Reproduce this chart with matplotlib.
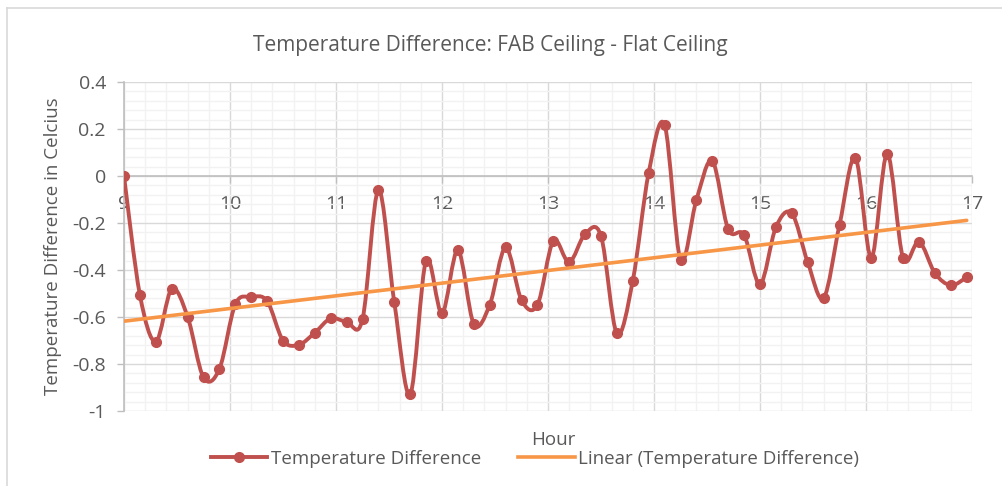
import numpy as np
import matplotlib
matplotlib.use("Agg")
import matplotlib.pyplot as plt
from matplotlib.path import Path
from matplotlib.patches import PathPatch
from matplotlib.lines import Line2D
from matplotlib.ticker import MultipleLocator, FuncFormatter

# -------------------------------
# Data
# -------------------------------
hours = [9.00, 9.15, 9.30, 9.45, 9.60, 9.75, 9.90, 10.05, 10.20, 10.35,
         10.50, 10.65, 10.80, 10.95, 11.10, 11.25, 11.40, 11.55, 11.70, 11.85,
         12.00, 12.15, 12.30, 12.45, 12.60, 12.75, 12.90, 13.05, 13.20, 13.35,
         13.50, 13.65, 13.80, 13.95, 14.10, 14.25, 14.40, 14.55, 14.70, 14.85,
         15.00, 15.15, 15.30, 15.45, 15.60, 15.75, 15.90, 16.05, 16.20, 16.35,
         16.50, 16.65, 16.80, 16.95]
temp_diff = [0.0, -0.506, -0.705, -0.481, -0.599, -0.857, -0.821, -0.546, -0.516, -0.532,
             -0.70, -0.718, -0.667, -0.606, -0.62, -0.61, -0.06, -0.538, -0.929, -0.36,
             -0.584, -0.316, -0.63, -0.549, -0.304, -0.528, -0.549, -0.277, -0.367, -0.247,
             -0.255, -0.67, -0.445, 0.014, 0.217, -0.357, -0.102, 0.064, -0.227, -0.251,
             -0.461, -0.218, -0.159, -0.367, -0.52, -0.208, 0.078, -0.348, 0.094, -0.35,
             -0.279, -0.413, -0.465, -0.431]
x_ticks = [9, 10, 11, 12, 13, 14, 15, 16, 17]
y_ticks = [-1, -0.8, -0.6, -0.4, -0.2, 0, 0.2, 0.4]

RED = "#C0504D"
ORANGE = "#F79646"
TXT = "#595959"

plt.rcParams['font.family'] = ['Open Sans', 'DejaVu Sans']
plt.rcParams['axes.unicode_minus'] = False

x = np.array(hours)
y = np.array(temp_diff)

# -------------------------------
# Figure & axes
# -------------------------------
fig = plt.figure(figsize=(10.02, 4.86), dpi=100)
ax = fig.add_axes([124 / 1002, 1 - 411 / 486, (972 - 124) / 1002, (411 - 82) / 486])

# chart area outline (top + left only visible)
fig.add_artist(Line2D([7 / 1002, 7 / 1002], [0, 1 - 8 / 486], transform=fig.transFigure,
                      color="#d9d9d9", lw=1.2))
fig.add_artist(Line2D([7 / 1002, 1], [1 - 8 / 486, 1 - 8 / 486], transform=fig.transFigure,
                      color="#d9d9d9", lw=1.2))

# smoothed line (Catmull-Rom style bezier, like Excel's "smoothed line")
pts = np.column_stack([x, y])
verts = [pts[0]]
codes = [Path.MOVETO]
n = len(pts)
for i in range(n - 1):
    p0 = pts[i - 1] if i > 0 else pts[i]
    p1 = pts[i]
    p2 = pts[i + 1]
    p3 = pts[i + 2] if i + 2 < n else pts[i + 1]
    c1 = p1 + (p2 - p0) / 6.0
    c2 = p2 - (p3 - p1) / 6.0
    verts += [c1, c2, p2]
    codes += [Path.CURVE4] * 3
ax.add_patch(PathPatch(Path(verts, codes), fill=False, edgecolor=RED, lw=2.8,
                       capstyle='round', joinstyle='round', zorder=3))
ax.plot(x, y, 'o', color=RED, ms=7, zorder=4)

# linear trendline
k, b = np.polyfit(x, y, 1)
ax.plot([x[0], x[-1]], [k * x[0] + b, k * x[-1] + b], color=ORANGE, lw=2.6,
        solid_capstyle='round', zorder=5)

# -------------------------------
# Axes styling
# -------------------------------
ax.set_xlim(9, 17)
ax.set_ylim(-1, 0.4)
ax.set_xticks(x_ticks)
ax.set_yticks(y_ticks)
ax.xaxis.set_minor_locator(MultipleLocator(0.2))
ax.yaxis.set_minor_locator(MultipleLocator(0.04))
ax.yaxis.set_major_formatter(FuncFormatter(lambda v, p: f"{v:g}"))

ax.grid(which='major', color="#d9d9d9", lw=1.0, zorder=0)
ax.grid(which='minor', color="#f2f2f2", lw=1.0, zorder=0)
ax.set_axisbelow(True)

for s in ['top', 'right']:
    ax.spines[s].set_visible(False)
ax.spines['bottom'].set_position(('data', 0))
ax.spines['bottom'].set_color("#bfbfbf")
ax.spines['left'].set_color("#bfbfbf")
ax.spines['bottom'].set_linewidth(1.2)
ax.spines['left'].set_linewidth(1.2)

ax.tick_params(which='major', length=5, width=1.0, color="#bfbfbf", labelcolor=TXT,
               labelsize=14, direction='out')
ax.tick_params(axis='y', pad=8)
ax.tick_params(axis='x', pad=9)
ax.tick_params(which='minor', length=0)

ax.set_ylabel("Temperature Difference in Celcius", color=TXT, fontsize=13.5)
ax.yaxis.set_label_coords(-62 / 848, 0.5)

fig.text(490 / 1002, 1 - 45 / 486, "Temperature Difference: FAB Ceiling - Flat Ceiling",
         ha='center', va='center', color=TXT, fontsize=15)
fig.text(553 / 1002, 1 - 440 / 486, "Hour", ha='center', va='center', color=TXT, fontsize=13.5)

handles = [Line2D([], [], color=RED, lw=2.8, marker='o', ms=7),
           Line2D([], [], color=ORANGE, lw=2.6)]
fig.legend(handles, ["Temperature Difference", "Linear (Temperature Difference)"],
           loc='center', bbox_to_anchor=(535 / 1002, 1 - 459 / 486), ncol=2, frameon=False,
           fontsize=13.5, labelcolor=TXT, handlelength=3.0, handletextpad=0.2,
           columnspacing=2.0)

fig.savefig("out.png", dpi=100)
